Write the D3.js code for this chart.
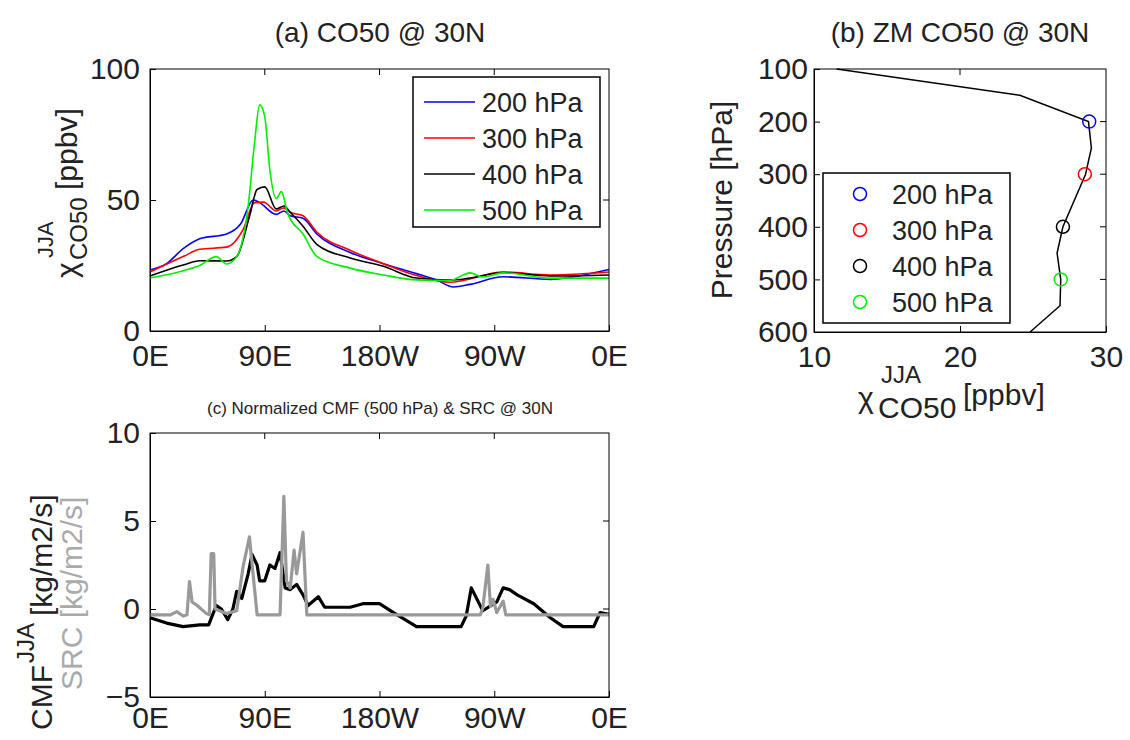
<!DOCTYPE html>
<html><head><meta charset="utf-8">
<script src="https://cdn.jsdelivr.net/npm/d3@7"></script>
<style>
body{margin:0;background:#fff}
text{font-family:"Liberation Sans",Arial,sans-serif;fill:#222}
.axis path,.axis line{stroke:#000}
</style></head><body>
<svg id="canvas" width="1130" height="740"></svg>
<script>
// panel (a): longitude (0..360 east) vs mixing ratio
let lev200 = [[0,23.3],[13,25.7],[26,31.4],[39,35.2],[60,37],[71,40.8],[81,50],[86,49],[99,44.5],[105,45.8],[110,44],[120,43],[131,37],[157,30],[183,25.7],[209,21.9],[225,19.4],[238,16.8],[251,17.8],[277,20.7],[314,19.7],[340,21.4],[360,23.5]];
let lev300 = [[0,22.5],[26,28.4],[39,31.2],[60,32],[73,38.7],[82,49],[89,49.2],[99,45.8],[105,47],[110,45.3],[120,44],[131,37.7],[157,30.8],[183,25.7],[209,21.2],[235,18.6],[277,22.5],[314,21.4],[360,22.5]];
let lev400 = [[0,21],[26,25.2],[39,26.8],[60,26.7],[68,28.4],[78,43.7],[84,54],[90,55],[99,46.6],[105,47.7],[110,45.3],[120,40],[131,33],[157,27.9],[183,24.7],[209,20.2],[235,19.4],[251,20.2],[277,22.3],[314,21],[360,21.4]];
let lev500 = [[0,20.2],[26,23],[39,25],[52,28.4],[60,25.6],[68,28.4],[77,47.7],[82,71.8],[86,86.3],[90,81.8],[94,61.4],[99,50.6],[103,53.2],[108,44.9],[120,37],[131,28.4],[157,24],[183,21.4],[209,19.5],[235,19.3],[251,22.2],[261,20.6],[277,22.2],[314,20.2],[360,20.2]];
let levNames = ['200 hPa','300 hPa','400 hPa','500 hPa'];
let levColors = ['#0000ff','#ff0000','#000000','#00ee00'];

// panel (b): zonal mean profile
let zmPres = [100,150,200,250,300,400,450,500,550,600];
let zmVal = [11.55,24.1,28.8,29.0,28.6,27.05,26.65,26.9,26.85,24.8];
let markPres = [200,300,400,500];
let markVal = [28.85,28.55,27.05,26.9];

// panel (c): normalized CMF and SRC
let cmf = [[0,-0.5],[13,-0.8],[26,-1],[39,-0.9],[46,-0.9],[52,0.2],[56,0],[61,-0.6],[65,0],[68,1],[72,0.6],[77,2],[80,3.1],[84,2.5],[86,1.6],[90,1.6],[94,2.5],[98,2.3],[102,3.2],[106,1.2],[110,1.1],[115,1.4],[120,0.8],[124,0.2],[132,0.7],[137,0.1],[157,0.1],[167,0.3],[180,0.3],[191,-0.2],[209,-1],[244,-1],[248,-0.4],[252,1.2],[261,-0.1],[272,0.4],[277,1.2],[282,1.1],[288,0.8],[301,0.3],[314,-0.5],[324,-1],[348,-1],[353,-0.2],[360,-0.3]];
let src = [[0,-0.33],[16,-0.33],[21,-0.15],[26,-0.4],[29,-0.33],[31,1.55],[33,0.4],[37,0.2],[44,-0.25],[46.5,-0.33],[48,3.15],[50,3.15],[51,0],[60,-0.25],[68,-0.1],[73,2.4],[78,4.1],[80,2.6],[84,-0.33],[102,-0.33],[105,6.4],[107,1.6],[110,1.2],[113,3.35],[115,2],[120,4.35],[123,-0.33],[235,-0.33],[259,-0.33],[261,0.05],[265,2.5],[267,0.15],[269,0.55],[272,-0.2],[277,0.45],[279,-0.33],[360,-0.33]];

let svg = d3.select('#canvas');
let lonTicks = [0,90,180,270,360];
let lonFmt = d => ({0:'0E',90:'90E',180:'180W',270:'90W',360:'0E'})[d];

let frame = (x, y, w, h) => {
    svg.append('rect').attr('x', x).attr('y', y).attr('width', w).attr('height', h)
        .attr('fill', 'none').attr('stroke', '#000');
};
let mirrorTicks = (xs, ys, xv, yv, t, r) => {
    xv.forEach(v => { svg.append('line').attr('x1', xs(v)).attr('x2', xs(v)).attr('y1', t).attr('y2', t + 6).attr('stroke', '#000'); });
    yv.forEach(v => { svg.append('line').attr('x1', r).attr('x2', r - 6).attr('y1', ys(v)).attr('y2', ys(v)).attr('stroke', '#000'); });
};
let styleAxis = g => g.selectAll('text').attr('font-size', 30).style('fill', '#222');
let txt = (x, y, s, size, opts = {}) => {
    let t = svg.append('text').attr('x', x).attr('y', y).attr('font-size', size).text(s);
    if (opts.anchor) t.attr('text-anchor', opts.anchor);
    if (opts.rot) t.attr('transform', `rotate(-90,${x},${y})`);
    if (opts.fill) t.style('fill', opts.fill);
    return t;
};

// ---------- panel (a)
let xa = d3.scaleLinear().domain([0,360]).range([150,609]);
let ya = d3.scaleLinear().domain([0,100]).range([331,69]);
svg.append('g').attr('class','axis').attr('transform','translate(0,331)')
    .call(d3.axisBottom(xa).tickValues(lonTicks).tickFormat(lonFmt).tickSizeInner(-6).tickSizeOuter(0).tickPadding(14)).call(styleAxis);
svg.append('g').attr('class','axis').attr('transform','translate(150,0)')
    .call(d3.axisLeft(ya).tickValues([0,50,100]).tickSizeInner(-6).tickSizeOuter(0).tickPadding(10)).call(styleAxis);
mirrorTicks(xa, ya, [90,180,270], [50], 69, 609);
let lineA = d3.line().x(d => xa(d[0])).y(d => ya(d[1])).curve(d3.curveMonotoneX);
[lev200, lev300, lev400, lev500].forEach((s, i) => {
    svg.append('path').attr('d', lineA(s)).attr('fill','none').attr('stroke', levColors[i]).attr('stroke-width', 1.6);
});
frame(150, 69, 459, 262);
svg.append('rect').attr('x',413).attr('y',77).attr('width',187).attr('height',150).attr('fill','#fff').attr('stroke','#000').attr('stroke-width',1.5);
levNames.forEach((n, i) => {
    let yy = 102 + i * 36;
    svg.append('line').attr('x1',424).attr('x2',475).attr('y1',yy).attr('y2',yy).attr('stroke',levColors[i]).attr('stroke-width',1.6);
    txt(482, yy + 10, n, 27);
});
txt(380, 42, '(a) CO50 @ 30N', 28, {anchor:'middle'});
// y label: chi with sub/superscript, rotated
txt(77, 278, 'χ', 30, {rot:true});
txt(87, 260, 'CO50', 24, {rot:true});
txt(53, 258, 'JJA', 22, {rot:true});
txt(77, 190, '[ppbv]', 30, {rot:true});

// ---------- panel (b)
let xb = d3.scaleLinear().domain([10,30]).range([814,1106]);
let yb = d3.scaleLinear().domain([100,600]).range([69,332]);
svg.append('g').attr('class','axis').attr('transform','translate(0,332)')
    .call(d3.axisBottom(xb).tickValues([10,20,30]).tickSizeInner(-6).tickSizeOuter(0).tickPadding(14)).call(styleAxis);
svg.append('g').attr('class','axis').attr('transform','translate(814,0)')
    .call(d3.axisLeft(yb).tickValues([100,200,300,400,500,600]).tickSizeInner(-6).tickSizeOuter(0).tickPadding(6)).call(styleAxis);
mirrorTicks(xb, yb, [20], [200,300,400,500], 69, 1106);
let lineB = d3.line().x((d, i) => xb(zmVal[i])).y(d => yb(d));
svg.append('path').attr('d', lineB(zmPres)).attr('fill','none').attr('stroke','#000').attr('stroke-width',1.5);
markPres.forEach((p, i) => {
    svg.append('circle').attr('cx', xb(markVal[i])).attr('cy', yb(p)).attr('r',6.5).attr('fill','none').attr('stroke',levColors[i]).attr('stroke-width',1.5);
});
frame(814, 69, 292, 263);
svg.append('rect').attr('x',823).attr('y',173).attr('width',187).attr('height',150).attr('fill','#fff').attr('stroke','#000').attr('stroke-width',1.5);
levNames.forEach((n, i) => {
    let yy = 194 + i * 36;
    svg.append('circle').attr('cx',860).attr('cy',yy).attr('r',6.5).attr('fill','none').attr('stroke',levColors[i]).attr('stroke-width',1.5);
    txt(892, yy + 10, n, 27);
});
txt(960, 42, '(b) ZM CO50 @ 30N', 28, {anchor:'middle'});
txt(732, 200, 'Pressure [hPa]', 30, {rot:true, anchor:'middle'});
txt(858, 408, 'χ', 30);
txt(878, 418, 'CO50', 30);
txt(881, 383, 'JJA', 24);
txt(963, 405, '[ppbv]', 30);

// ---------- panel (c)
let xc = d3.scaleLinear().domain([0,360]).range([150,609]);
let yc = d3.scaleLinear().domain([-5,10]).range([697,433]);
svg.append('g').attr('class','axis').attr('transform','translate(0,697)')
    .call(d3.axisBottom(xc).tickValues(lonTicks).tickFormat(lonFmt).tickSizeInner(-6).tickSizeOuter(0).tickPadding(10)).call(styleAxis);
svg.append('g').attr('class','axis').attr('transform','translate(150,0)')
    .call(d3.axisLeft(yc).tickValues([-5,0,5,10]).tickFormat(d => d < 0 ? '\u22125' : d).tickSizeInner(-6).tickSizeOuter(0).tickPadding(10)).call(styleAxis);
mirrorTicks(xc, yc, [90,180,270], [0,5], 433, 609);
let lineC = d3.line().x(d => xc(d[0])).y(d => yc(d[1]));
svg.append('path').attr('d', lineC(cmf)).attr('fill','none').attr('stroke','#000').attr('stroke-width',3.2).attr('stroke-linejoin','round');
svg.append('path').attr('d', lineC(src)).attr('fill','none').attr('stroke','#999').attr('stroke-width',3.2).attr('stroke-linejoin','round');
frame(150, 433, 459, 264);
txt(380, 414, '(c) Normalized CMF (500 hPa) & SRC @ 30N', 17, {anchor:'middle'});
txt(52, 730, 'CMF', 30, {rot:true});
txt(34, 663, 'JJA', 24, {rot:true});
txt(52, 616, '[kg/m2/s]', 30, {rot:true});
txt(82, 690, 'SRC [kg/m2/s]', 30, {rot:true, fill:'#aaa'});
</script></body></html>
